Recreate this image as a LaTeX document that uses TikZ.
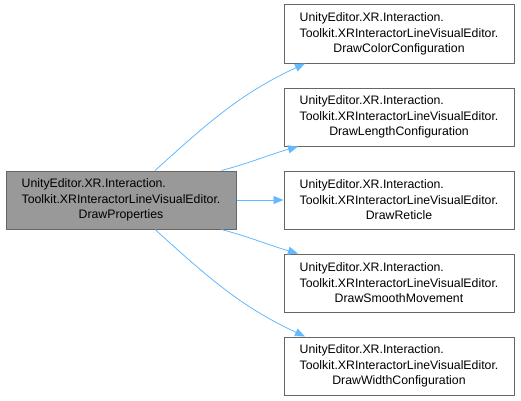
\documentclass[tikz,border=0pt]{standalone}
\usepackage{fontspec}
\setmainfont{Liberation Sans}
\usepackage{tikz}
\usetikzlibrary{positioning, arrows.meta}

\definecolor{edgeblue}{HTML}{63B8FF}
\definecolor{boxline}{HTML}{666666}
\definecolor{boxfill}{HTML}{999999}

% member name split over three lines, first two flush left
\newcommand{\membername}[1]{\rlap{UnityEditor.XR.Interaction.}\phantom{Toolkit.XRInteractorLineVisualEditor.}\\Toolkit.XRInteractorLineVisualEditor.\\#1}

\begin{document}
\begin{tikzpicture}[
    x=1pt, y=1pt,
    every node/.style={draw=boxline, line width=1pt, minimum width=230pt, minimum height=58pt, align=center, inner sep=0pt,
        font=\fontsize{12.3}{15.5}\selectfont},
    callee/.style={fill=white},
    caller/.style={fill=boxfill},
    call/.style={draw=edgeblue, line width=0.8pt, -{Triangle[length=10pt, width=8pt]}}
]
\useasboundingbox (0,0) rectangle (521,400);

\node[caller] (props) at (121,200) {\membername{DrawProperties}};

\node[callee] (color) at (399,366) {\membername{DrawColorConfiguration}};
\node[callee] (length) at (399,283) {\membername{DrawLengthConfiguration}};
\node[callee] (reticle) at (399,200) {\membername{DrawReticle}};
\node[callee] (smooth) at (399,117) {\membername{DrawSmoothMovement}};
\node[callee] (width) at (399,34) {\membername{DrawWidthConfiguration}};

\draw[call] ([xshift=34pt]props.north) to[out=42, in=205] ([xshift=-94pt]color.south);
\draw[call] ([xshift=-15pt]props.north east) to[out=15, in=196] ([xshift=-101pt]length.south);
\draw[call] (props.east) -- (reticle.west);
\draw[call] ([xshift=-15pt]props.south east) to[out=-15, in=164] ([xshift=-101pt]smooth.north);
\draw[call] ([xshift=34pt]props.south) to[out=-42, in=155] ([xshift=-94pt]width.north);
\end{tikzpicture}
\end{document}
